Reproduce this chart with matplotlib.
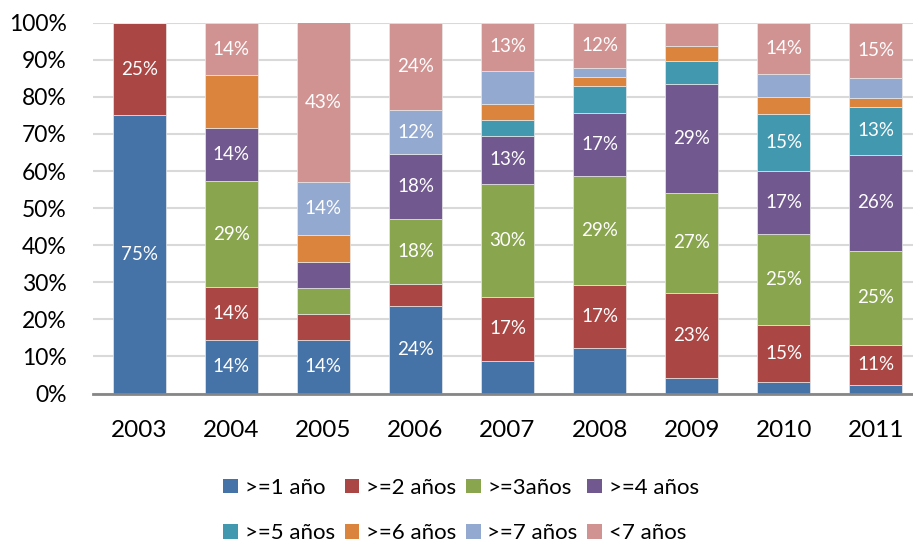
import matplotlib
matplotlib.use("Agg")
import matplotlib.pyplot as plt
import numpy as np
from matplotlib.patches import Patch

plt.rcParams['font.family'] = ['Lato', 'DejaVu Sans']

years = ['2003', '2004', '2005', '2006', '2007', '2008', '2009', '2010', '2011']
series_names = ['>=1 año', '>=2 años', '>=3años', '>=4 años',
                '>=5 años', '>=6 años', '>=7 años', '<7 años']

# percent shares per series, per year
s1 = [75.0, 14.3, 14.3, 23.5, 8.7, 12.2, 4.2, 3.1, 2.2]
s2 = [25.0, 14.3, 7.1, 5.9, 17.4, 17.1, 22.9, 15.4, 11.0]
s3 = [0.0, 28.6, 7.1, 17.6, 30.4, 29.3, 27.1, 24.6, 25.2]
s4 = [0.0, 14.3, 7.1, 17.6, 13.0, 17.1, 29.2, 16.9, 26.0]
s5 = [0.0, 0.0, 0.0, 0.0, 4.35, 7.3, 6.25, 15.4, 12.8]
s6 = [0.0, 14.3, 7.1, 0.0, 4.35, 2.4, 4.1, 4.6, 2.4]
s7 = [0.0, 0.0, 14.3, 11.8, 8.7, 2.4, 0.0, 6.2, 5.6]
s8 = [0.0, 14.2, 43.1, 23.6, 13.1, 12.2, 6.25, 13.8, 14.8]

# which segments carry a data label (1 = shown)
show1 = [1, 1, 1, 1, 0, 0, 0, 0, 0]
show2 = [1, 1, 0, 0, 1, 1, 1, 1, 1]
show3 = [0, 1, 0, 1, 1, 1, 1, 1, 1]
show4 = [0, 1, 0, 1, 1, 1, 1, 1, 1]
show5 = [0, 0, 0, 0, 0, 0, 0, 1, 1]
show6 = [0, 0, 0, 0, 0, 0, 0, 0, 0]
show7 = [0, 0, 1, 1, 0, 0, 0, 0, 0]
show8 = [0, 1, 1, 1, 1, 1, 0, 1, 1]

series = [s1, s2, s3, s4, s5, s6, s7, s8]
shows = [show1, show2, show3, show4, show5, show6, show7, show8]
colors = ['#4572A7', '#AA4643', '#89A54E', '#71588F',
          '#4198AF', '#DB843D', '#93A9CF', '#D19392']

fig = plt.figure(figsize=(9.13, 5.43), dpi=100)
ax = fig.add_axes([0.1022, 0.2753, 0.9074, 0.6829])

x = np.arange(len(years))
bottom = np.zeros(len(years))
for vals, sh, col, name in zip(series, shows, colors, series_names):
    v = np.array(vals) / 100.0
    ax.bar(x, v, width=0.572, bottom=bottom, color=col, edgecolor='#E8E8E8',
           linewidth=0.5, zorder=3, label=name)
    for xi, vi, bi, s in zip(x, v, bottom, sh):
        if s and vi > 0:
            ax.text(xi, bi + vi / 2, f"{vi*100:.0f}%", ha='center', va='center',
                    color='white', fontsize=13.5, zorder=4)
    bottom += v

ax.set_xlim(-0.5, len(years) - 0.5)
ax.set_ylim(0, 1)
ax.set_yticks(np.arange(0, 1.01, 0.1))
ax.set_yticklabels([f"{int(round(t*100))}%" for t in np.arange(0, 1.01, 0.1)])
ax.set_xticks(x)
ax.set_xticklabels(years)
ax.tick_params(axis='x', length=0, labelsize=17.5, colors='black', pad=19)
ax.tick_params(axis='y', length=0, labelsize=16.5, colors='black', pad=19)
ax.grid(axis='y', color='#D9D9D9', linewidth=1.5, zorder=0)
ax.set_axisbelow(True)
for sp in ['top', 'right', 'left']:
    ax.spines[sp].set_visible(False)
ax.spines['bottom'].set_color('#868686')
ax.spines['bottom'].set_linewidth(2)
ax.spines['bottom'].set_zorder(5)

handles = [Patch(facecolor=c, edgecolor='none') for c in colors]
order = [0, 4, 1, 5, 2, 6, 3, 7]
fig.legend([handles[i] for i in order], [series_names[i] for i in order],
           loc='upper center', bbox_to_anchor=(0.505, 0.12), ncol=4,
           frameon=False, fontsize=16, handlelength=0.65, handleheight=0.65,
           handletextpad=0.3, columnspacing=0.45, labelspacing=1.15,
           borderaxespad=0, borderpad=0)

fig.savefig('out.png', dpi=100)
